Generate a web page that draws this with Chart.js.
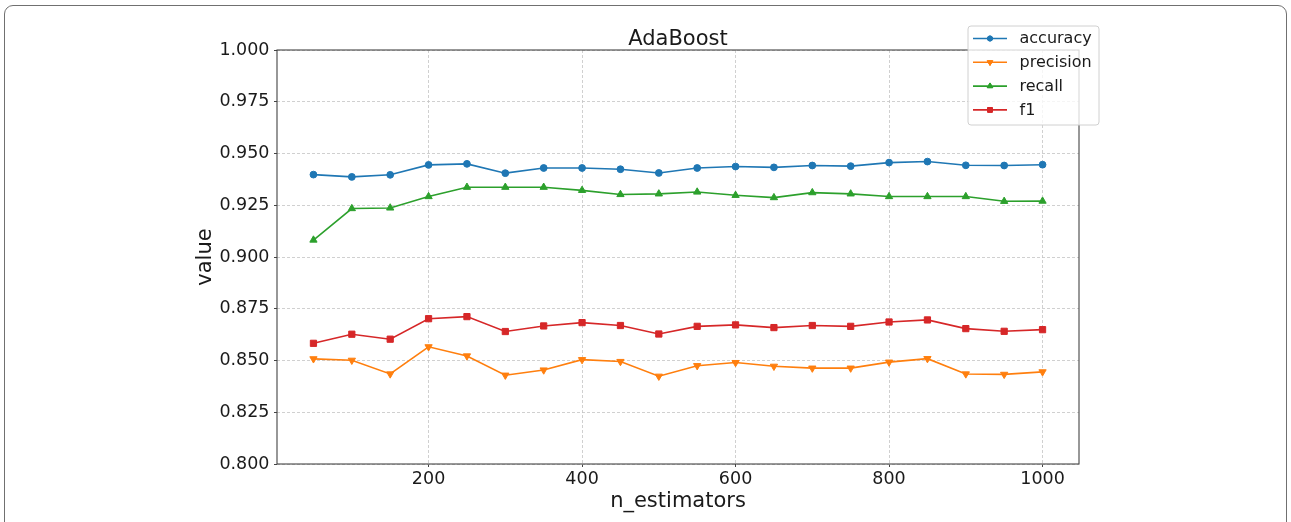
<!DOCTYPE html>
<html>
<head>
<meta charset="utf-8">
<script src="https://cdn.jsdelivr.net/npm/chart.js@4.4.1/dist/chart.umd.min.js"></script>
<style>
  html, body { margin: 0; padding: 0; background: #ffffff; overflow: hidden; }
  #frame { position: absolute; left: 4px; top: 5px; width: 1283px; height: 600px;
           border: 1px solid #707070; border-radius: 9px; box-sizing: border-box; }
  #wrap { position: absolute; left: 0; top: 0; width: 1291px; height: 522px; }
</style>
</head>
<body>
<div id="frame"></div>
<div id="wrap"><canvas id="c" width="1291" height="522"></canvas></div>
<script>
// ---- data ----
const nEstimators = [50,100,150,200,250,300,350,400,450,500,550,600,650,700,750,800,850,900,950,1000];
const accuracy  = [0.9398,0.9387,0.9397,0.9445,0.9450,0.9405,0.9430,0.9430,0.9424,0.9406,0.9430,0.9437,0.9433,0.9442,0.9439,0.9456,0.9461,0.9443,0.9442,0.9446];
const precision = [0.8508,0.8501,0.8435,0.8566,0.8522,0.8429,0.8454,0.8504,0.8495,0.8424,0.8475,0.8490,0.8472,0.8463,0.8463,0.8492,0.8509,0.8435,0.8433,0.8445];
const recall    = [0.9082,0.9234,0.9237,0.9292,0.9337,0.9337,0.9337,0.9322,0.9302,0.9305,0.9314,0.9298,0.9287,0.9311,0.9305,0.9292,0.9292,0.9292,0.9269,0.9270];
const f1        = [0.8583,0.8627,0.8603,0.8702,0.8712,0.8640,0.8667,0.8683,0.8669,0.8628,0.8665,0.8672,0.8659,0.8669,0.8665,0.8686,0.8696,0.8654,0.8641,0.8649];
const xTickValues = [200,400,600,800,1000];
const seriesNames = ['accuracy','precision','recall','f1'];
const chartTitle = 'AdaBoost';
const xLabel = 'n_estimators';
const yLabel = 'value';

const FONT = "'DejaVu Sans', 'Liberation Sans', sans-serif";
const colors = ['#1f77b4','#ff7f0e','#2ca02c','#d62728'];
const styles = [
  {pointStyle:'circle', radius:3.4, rotation:0},
  {pointStyle:'triangle', radius:4.2, rotation:180},
  {pointStyle:'triangle', radius:4.2, rotation:0},
  {pointStyle:'rect', radius:4.4, rotation:0}
];
const seriesValues = [accuracy, precision, recall, f1];

const datasets = seriesValues.map((vals, i) => ({
  label: seriesNames[i],
  data: nEstimators.map((n, j) => ({x: n, y: vals[j]})),
  borderColor: colors[i],
  backgroundColor: colors[i],
  borderWidth: 1.6,
  pointStyle: styles[i].pointStyle,
  pointRadius: styles[i].radius,
  pointRotation: styles[i].rotation,
  pointBorderWidth: 1,
  pointBackgroundColor: colors[i],
  pointBorderColor: colors[i],
  tension: 0,
  fill: false
}));

const framePlugin = {
  id: 'framePlugin',
  afterDatasetsDraw(chart) {
    const {ctx, chartArea: a} = chart;
    ctx.save();
    ctx.strokeStyle = '#444444';
    ctx.lineWidth = 1.1;
    ctx.strokeRect(a.left, a.top, a.right - a.left, a.bottom - a.top);
    ctx.restore();
  },
  afterDraw(chart) {
    const {ctx, chartArea: a} = chart;
    ctx.save();
    // title
    ctx.fillStyle = '#1a1a1a';
    ctx.font = '21px ' + FONT;
    ctx.textAlign = 'center';
    ctx.textBaseline = 'alphabetic';
    ctx.fillText(chartTitle, (a.left + a.right) / 2, 45);
    // legend
    const bx = 968, by = 26, bw = 131, bh = 99, r = 3;
    ctx.beginPath();
    ctx.moveTo(bx + r, by);
    ctx.arcTo(bx + bw, by, bx + bw, by + bh, r);
    ctx.arcTo(bx + bw, by + bh, bx, by + bh, r);
    ctx.arcTo(bx, by + bh, bx, by, r);
    ctx.arcTo(bx, by, bx + bw, by, r);
    ctx.closePath();
    ctx.fillStyle = 'rgba(255,255,255,0.8)';
    ctx.fill();
    ctx.strokeStyle = '#d0d0d0';
    ctx.lineWidth = 1;
    ctx.stroke();
    ctx.font = '16px ' + FONT;
    ctx.textAlign = 'left';
    ctx.textBaseline = 'middle';
    chart.data.datasets.forEach((ds, i) => {
      const y = 38.5 + i * 23.8;
      ctx.strokeStyle = ds.borderColor;
      ctx.lineWidth = 1.6;
      ctx.beginPath();
      ctx.moveTo(973, y);
      ctx.lineTo(1007, y);
      ctx.stroke();
      ctx.fillStyle = ds.borderColor;
      ctx.lineWidth = 1;
      Chart.helpers.drawPoint(ctx, {
        pointStyle: ds.pointStyle, radius: ds.pointRadius * 0.75, rotation: ds.pointRotation, borderWidth: 1
      }, 990, y);
      ctx.fill();
      ctx.stroke();
      ctx.fillStyle = '#1a1a1a';
      ctx.fillText(ds.label, 1019.5, y + 0.5);
    });
    ctx.restore();
  }
};

const gridOpts = {
  color: '#c4c4c4',
  lineWidth: 0.8,
  drawTicks: true,
  tickLength: 3,
  tickColor: '#444444',
  tickBorderDash: [],
  tickWidth: 1
};

new Chart(document.getElementById('c'), {
  type: 'line',
  data: { datasets },
  options: {
    responsive: false,
    animation: false,
    devicePixelRatio: 1,
    layout: { padding: { left: 193, right: 212, top: 50, bottom: 0 } },
    plugins: { legend: { display: false }, title: { display: false }, tooltip: { enabled: false } },
    scales: {
      x: {
        type: 'linear',
        min: 2.5,
        max: 1047.5,
        afterBuildTicks: (s) => { s.ticks = xTickValues.map(v => ({value: v})); },
        afterFit: (s) => { s.height = 58; },
        ticks: {
          font: { family: FONT, size: 17.5 },
          color: '#1a1a1a',
          padding: 2,
          maxRotation: 0,
          autoSkip: false,
          callback: (v) => String(v)
        },
        grid: Object.assign({}, gridOpts),
        border: { display: false, dash: [3, 2] },
        title: {
          display: true,
          text: xLabel,
          font: { family: FONT, size: 21 },
          color: '#1a1a1a',
          padding: { top: 0, bottom: 7.4 }
        }
      },
      y: {
        min: 0.8,
        max: 1.0,
        afterFit: (s) => { s.width = 84; },
        ticks: {
          stepSize: 0.025,
          font: { family: FONT, size: 17.5 },
          color: '#1a1a1a',
          padding: 4.5,
          callback: (v) => Number(v).toFixed(3)
        },
        grid: Object.assign({}, gridOpts),
        border: { display: false, dash: [3, 2] },
        title: {
          display: true,
          text: yLabel,
          font: { family: FONT, size: 21 },
          color: '#1a1a1a',
          padding: { top: 0, bottom: 0 }
        }
      }
    }
  },
  plugins: [framePlugin]
});
</script>
</body>
</html>
